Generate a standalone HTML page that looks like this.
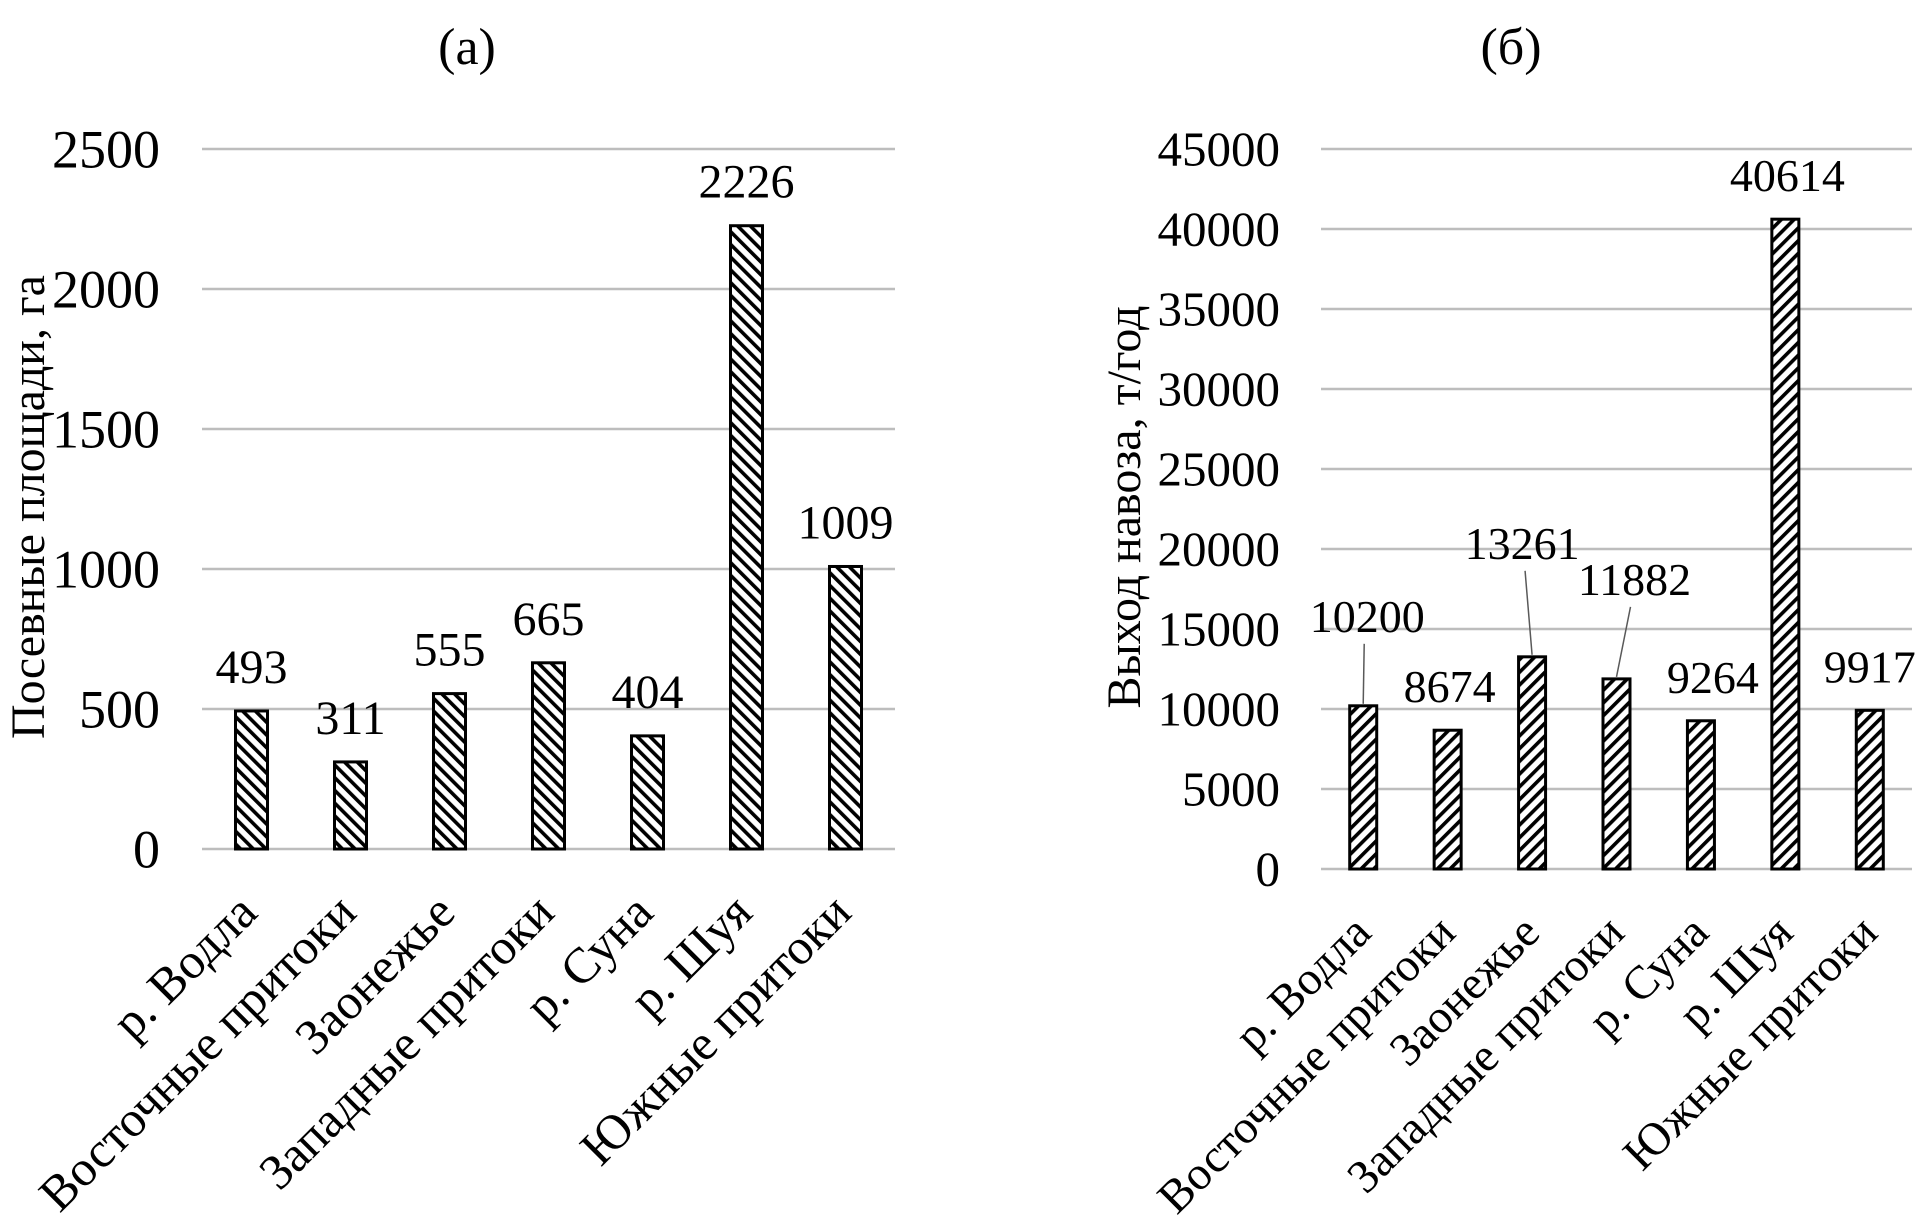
<!DOCTYPE html>
<html><head><meta charset="utf-8">
<style>
html,body{margin:0;padding:0;background:#fff;}
svg{display:block;font-family:"Liberation Serif","DejaVu Serif",serif;}
</style></head>
<body>
<svg id="chart" width="1932" height="1228" viewBox="0 0 1932 1228" xmlns="http://www.w3.org/2000/svg">
<defs>
<pattern id="hatchA" patternUnits="userSpaceOnUse" width="9" height="9" patternTransform="rotate(-45)">
<rect width="9" height="9" fill="#fff"/><rect x="0" y="0" width="3.6" height="9" fill="#000"/>
</pattern>
<pattern id="hatchB" patternUnits="userSpaceOnUse" width="9" height="9" patternTransform="rotate(45)">
<rect width="9" height="9" fill="#fff"/><rect x="0" y="0" width="3.6" height="9" fill="#000"/>
</pattern>
</defs>
<g id="panelA"></g>
<g id="panelB"></g>
</svg>
<script>
const categories = ["р. Водла","Восточные притоки","Заонежье","Западные притоки","р. Суна","р. Шуя","Южные притоки"];
const areaValues = [493,311,555,665,404,2226,1009];
const manureValues = [10200,8674,13261,11882,9264,40614,9917];
const areaTicks = [0,500,1000,1500,2000,2500];
const manureTicks = [0,5000,10000,15000,20000,25000,30000,35000,40000,45000];

const NS="http://www.w3.org/2000/svg";
function mk(tag,attrs,parent,text){const e=document.createElementNS(NS,tag);for(const k in attrs)e.setAttribute(k,attrs[k]);if(text!==undefined)e.textContent=text;parent.appendChild(e);return e;}

function drawPanel(g,cfg){
  const x0=cfg.left,x1=cfg.right,y0=cfg.bottom,y1=cfg.top;
  const maxV=cfg.ticks[cfg.ticks.length-1];
  const yS=v=>y0-(v/maxV)*(y0-y1);
  const band=(x1-x0)/categories.length;
  const xS=i=>x0+band*(i+0.5);
  const t=mk('text',{x:cfg.titleX,y:64,'font-size':52,'text-anchor':'middle'},g,cfg.title);
  
  
  cfg.ticks.forEach(v=>{
    const l=mk('line',{x1:x0,x2:x1,y1:yS(v),y2:yS(v),stroke:'#bdbdbd','stroke-width':2.5},g);
    
    
    const tl=mk('text',{x:cfg.tickRight,y:yS(v)+cfg.tickFont*0.34,'font-size':cfg.tickFont,'text-anchor':'end'},g,String(v));
    
    
  });
  const at=mk('text',{transform:`translate(${cfg.axisTitleX},507) rotate(-90)`,'font-size':cfg.titleFont,'text-anchor':'middle'},g,cfg.axisTitle);
  
  
  cfg.values.forEach((v,i)=>{
    const cx=xS(i);
    const r=mk('rect',{x:cx-cfg.barW/2,y:yS(v),width:cfg.barW,height:y0-yS(v),fill:`url(#${cfg.pattern})`,stroke:'#000','stroke-width':3},g);
    
    
    const off=cfg.labelOff[i];
    const lx=cx+off[0], ly=yS(v)-28+off[1];
    const dl=mk('text',{x:lx,y:ly,'font-size':cfg.dataFont,'text-anchor':'middle'},g,String(v));
    
    
    if(off[1]<-20){
      const ld=mk('line',{x1:lx+off[2],y1:ly+12,x2:cx+off[3],y2:yS(v)-2,stroke:'#595959','stroke-width':1.5},g);
      
      
    }
    const xl=mk('text',{transform:`translate(${cx+cfg.xlabDx},${y0+66}) rotate(-45)`,'font-size':cfg.xFont,'text-anchor':'end'},g,categories[i]);
    
    
  });
}
drawPanel(document.getElementById('panelA'),{left:202,right:895,top:149,bottom:849,ticks:areaTicks,values:areaValues,
  title:'(а)',titleX:467,tickRight:160,tickFont:54,axisTitleX:44,titleFont:48,dataFont:48,xFont:50,xlabDx:8,
  axisTitle:'Посевные площади, га',barW:32,pattern:'hatchA',
  labelOff:[[0,0],[0,0],[0,0],[0,0],[0,0],[0,0],[0,0]]});
drawPanel(document.getElementById('panelB'),{left:1321,right:1912,top:149,bottom:869,ticks:manureTicks,values:manureValues,
  title:'(б)',titleX:1511,tickRight:1280,tickFont:49,axisTitleX:1140,titleFont:48,dataFont:46,xFont:47,xlabDx:10,
  axisTitle:'Выход навоза, т/год',barW:27,pattern:'hatchB',
  labelOff:[[4,-46,-3,0],[2,0],[-10,-70,3,0],[18,-56,-4,0],[12,0],[2,0],[0,0]]});
</script>
</body></html>
